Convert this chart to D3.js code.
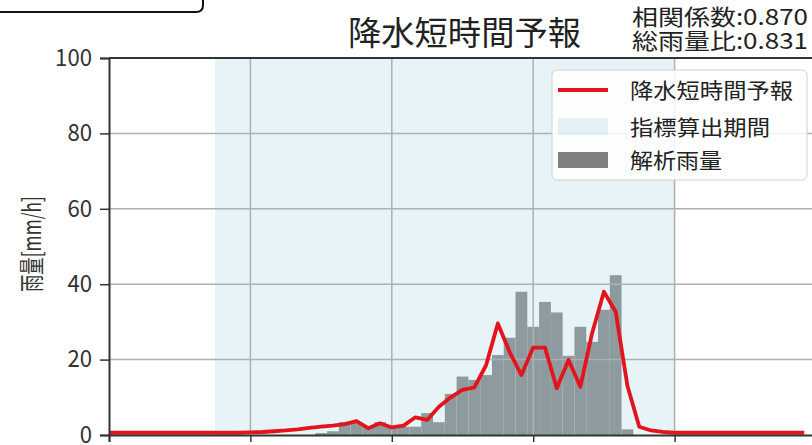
<!DOCTYPE html>
<html>
<head>
<meta charset="utf-8">
<script src="https://cdn.jsdelivr.net/npm/d3@7"></script>
<style>
    body { margin: 0; background: #fff; }
    svg { display: block; font-family: 'Noto Sans CJK JP', 'Noto Sans', sans-serif; }
</style>
</head>
<body>
<script>
// 10-minute steps, index 0..59
const analysisRain = [
    0, 0, 0, 0, 0, 0, 0, 0, 0, 0,
    0, 0, 0, 0, 0, 0, 0, 0, 0.5, 1,
    3.4, 3.4, 2.2, 3.4, 2.2, 2.2, 2.2, 5.8, 3.4, 10.9,
    15.5, 14.6, 15.9, 21.2, 25.8, 38, 28.7, 35.3, 32.5, 21,
    28.7, 24.7, 33.2, 42.4, 1.5, 0, 0, 0, 0, 0,
    0, 0, 0, 0, 0, 0, 0, 0, 0, 0
];
const forecastRain = [
    0.6, 0.6, 0.6, 0.6, 0.6, 0.6, 0.6, 0.6, 0.6, 0.6,
    0.6, 0.6, 0.7, 0.8, 1.0, 1.2, 1.5, 1.9, 2.2, 2.5,
    2.9, 3.7, 1.8, 3.1, 2.0, 2.5, 4.7, 4.0, 7.5, 10,
    12, 12.6, 18.5, 29.6, 22, 15.9, 23.2, 23.2, 12.4, 19.9,
    12.8, 27, 38, 32.7, 13, 2.2, 1.2, 0.8, 0.6, 0.6,
    0.6, 0.6, 0.6, 0.6, 0.6, 0.6, 0.6, 0.6, 0.6, 0.6
];
const evalPeriod = [9, 48];
const xTicks = [0, 12, 24, 36, 48, 60];
const yTicks = [0, 20, 40, 60, 80, 100];
const titleText = '降水短時間予報';
const statLines = ['相関係数:0.870', '総雨量比:0.831'];
const legendLabels = ['降水短時間予報', '指標算出期間', '解析雨量'];
const yLabel = '雨量[mm/h]';

const width = 812;
const height = 445;
const plot = { left: 109, top: 58, bottom: 435, right: 816 };

const svg = d3.select('body')
    .append('svg')
    .attr('width', width)
    .attr('height', height);

const x = d3.scaleLinear().domain([0, 60]).range([plot.left, plot.right]);
const y = d3.scaleLinear().domain([0, 100]).range([plot.bottom, plot.top]);

svg.append('clipPath')
    .attr('id', 'clip')
    .append('rect')
    .attr('x', plot.left)
    .attr('y', plot.top)
    .attr('width', plot.right - plot.left)
    .attr('height', plot.bottom - plot.top);

const area = svg.append('g').attr('clip-path', 'url(#clip)');

// bars
area.selectAll('rect.bar')
    .data(analysisRain)
    .join('rect')
    .attr('class', 'bar')
    .attr('x', (d, i) => x(i - 0.5))
    .attr('width', x(1) - x(0))
    .attr('y', d => y(d))
    .attr('height', d => y(0) - y(d))
    .attr('fill', '#808080');

// evaluation period shade
area.append('rect')
    .attr('x', x(evalPeriod[0]))
    .attr('width', x(evalPeriod[1]) - x(evalPeriod[0]))
    .attr('y', plot.top)
    .attr('height', plot.bottom - plot.top)
    .attr('fill', '#add8e6')
    .attr('fill-opacity', 0.3);

// grid
area.selectAll('line.hgrid')
    .data(yTicks.slice(1, -1))
    .join('line')
    .attr('x1', plot.left)
    .attr('x2', plot.right)
    .attr('y1', d => y(d))
    .attr('y2', d => y(d))
    .attr('stroke', '#b0b0b0')
    .attr('stroke-width', 1.5);

area.selectAll('line.vgrid')
    .data(xTicks.slice(1, -1))
    .join('line')
    .attr('x1', d => x(d))
    .attr('x2', d => x(d))
    .attr('y1', plot.top)
    .attr('y2', plot.bottom)
    .attr('stroke', '#b0b0b0')
    .attr('stroke-width', 1.5);

// forecast line
const line = d3.line()
    .x((d, i) => x(i))
    .y(d => y(d));

area.append('path')
    .datum(forecastRain)
    .attr('d', line)
    .attr('fill', 'none')
    .attr('stroke', '#e3141c')
    .attr('stroke-width', 3.8)
    .attr('stroke-linejoin', 'round');

// axes
const yAxis = svg.append('g')
    .attr('transform', `translate(${plot.left},0)`)
    .call(d3.axisLeft(y).tickValues(yTicks).tickSize(9).tickPadding(8));

yAxis.select('.domain').attr('stroke', '#333').attr('stroke-width', 2);
yAxis.selectAll('.tick line').attr('stroke', '#333').attr('stroke-width', 1.5);
yAxis.selectAll('.tick text')
    .attr('fill', '#333')
    .attr('dy', '0.3em')
    .attr('textLength', d => String(d).length * 12.3)
    .attr('lengthAdjust', 'spacingAndGlyphs')
    .style('font-family', "'Noto Sans CJK JP', sans-serif")
    .style('font-size', '24px');

const xAxis = svg.append('g')
    .attr('transform', `translate(0,${plot.bottom})`)
    .call(d3.axisBottom(x).tickValues(xTicks).tickSize(7).tickFormat(''));

xAxis.select('.domain').attr('stroke', '#333').attr('stroke-width', 2);
xAxis.selectAll('.tick line').attr('stroke', '#333').attr('stroke-width', 1.5);

svg.append('line')
    .attr('x1', plot.left)
    .attr('x2', width)
    .attr('y1', plot.top)
    .attr('y2', plot.top)
    .attr('stroke', '#333')
    .attr('stroke-width', 2);

// y label
svg.append('text')
    .attr('transform', 'translate(41,244) rotate(-90)')
    .attr('text-anchor', 'middle')
    .attr('textLength', 96)
    .attr('lengthAdjust', 'spacingAndGlyphs')
    .style('font-size', '25px')
    .attr('fill', '#333')
    .text(yLabel);

// title and stats
svg.append('text')
    .attr('x', 348)
    .attr('y', 45)
    .attr('textLength', 233)
    .attr('lengthAdjust', 'spacingAndGlyphs')
    .style('font-size', '33px')
    .attr('fill', '#222')
    .text(titleText);

svg.append('text')
    .attr('class', 'stat')
    .style('font-size', '22px')
    .attr('fill', '#222')
    .selectAll('tspan')
    .data(statLines)
    .join('tspan')
    .attr('x', 632)
    .attr('y', (d, i) => 25 + i * 24)
    .attr('textLength', 176)
    .attr('lengthAdjust', 'spacingAndGlyphs')
    .text(d => d);

// legend
const legend = svg.append('g').attr('id', 'legend');

legend.append('rect')
    .attr('x', 552)
    .attr('y', 70)
    .attr('width', 255)
    .attr('height', 110)
    .attr('rx', 5)
    .attr('fill', '#fff')
    .attr('fill-opacity', 0.85)
    .attr('stroke', '#d0d0d0');

legend.append('line')
    .attr('x1', 558).attr('x2', 608)
    .attr('y1', 90).attr('y2', 90)
    .attr('stroke', '#e3141c')
    .attr('stroke-width', 3.8);

legend.append('rect')
    .attr('x', 558).attr('y', 118)
    .attr('width', 50).attr('height', 17)
    .attr('fill', '#add8e6')
    .attr('fill-opacity', 0.3);

legend.append('rect')
    .attr('x', 558).attr('y', 152)
    .attr('width', 50).attr('height', 16)
    .attr('fill', '#808080');

const legendWidths = [163, 140, 92];
legend.selectAll('text')
    .data(legendLabels)
    .join('text')
    .attr('x', 630)
    .attr('y', (d, i) => [90, 127, 160][i])
    .attr('dy', '0.36em')
    .attr('textLength', (d, i) => legendWidths[i])
    .attr('lengthAdjust', 'spacingAndGlyphs')
    .style('font-size', '21px')
    .attr('fill', '#222')
    .text(d => d);

// partial box at top-left
svg.append('path')
    .attr('d', 'M-2,12 H196 Q203,12 203,5 V-2')
    .attr('fill', 'none')
    .attr('stroke', '#111')
    .attr('stroke-width', 2);
</script>
</body>
</html>
